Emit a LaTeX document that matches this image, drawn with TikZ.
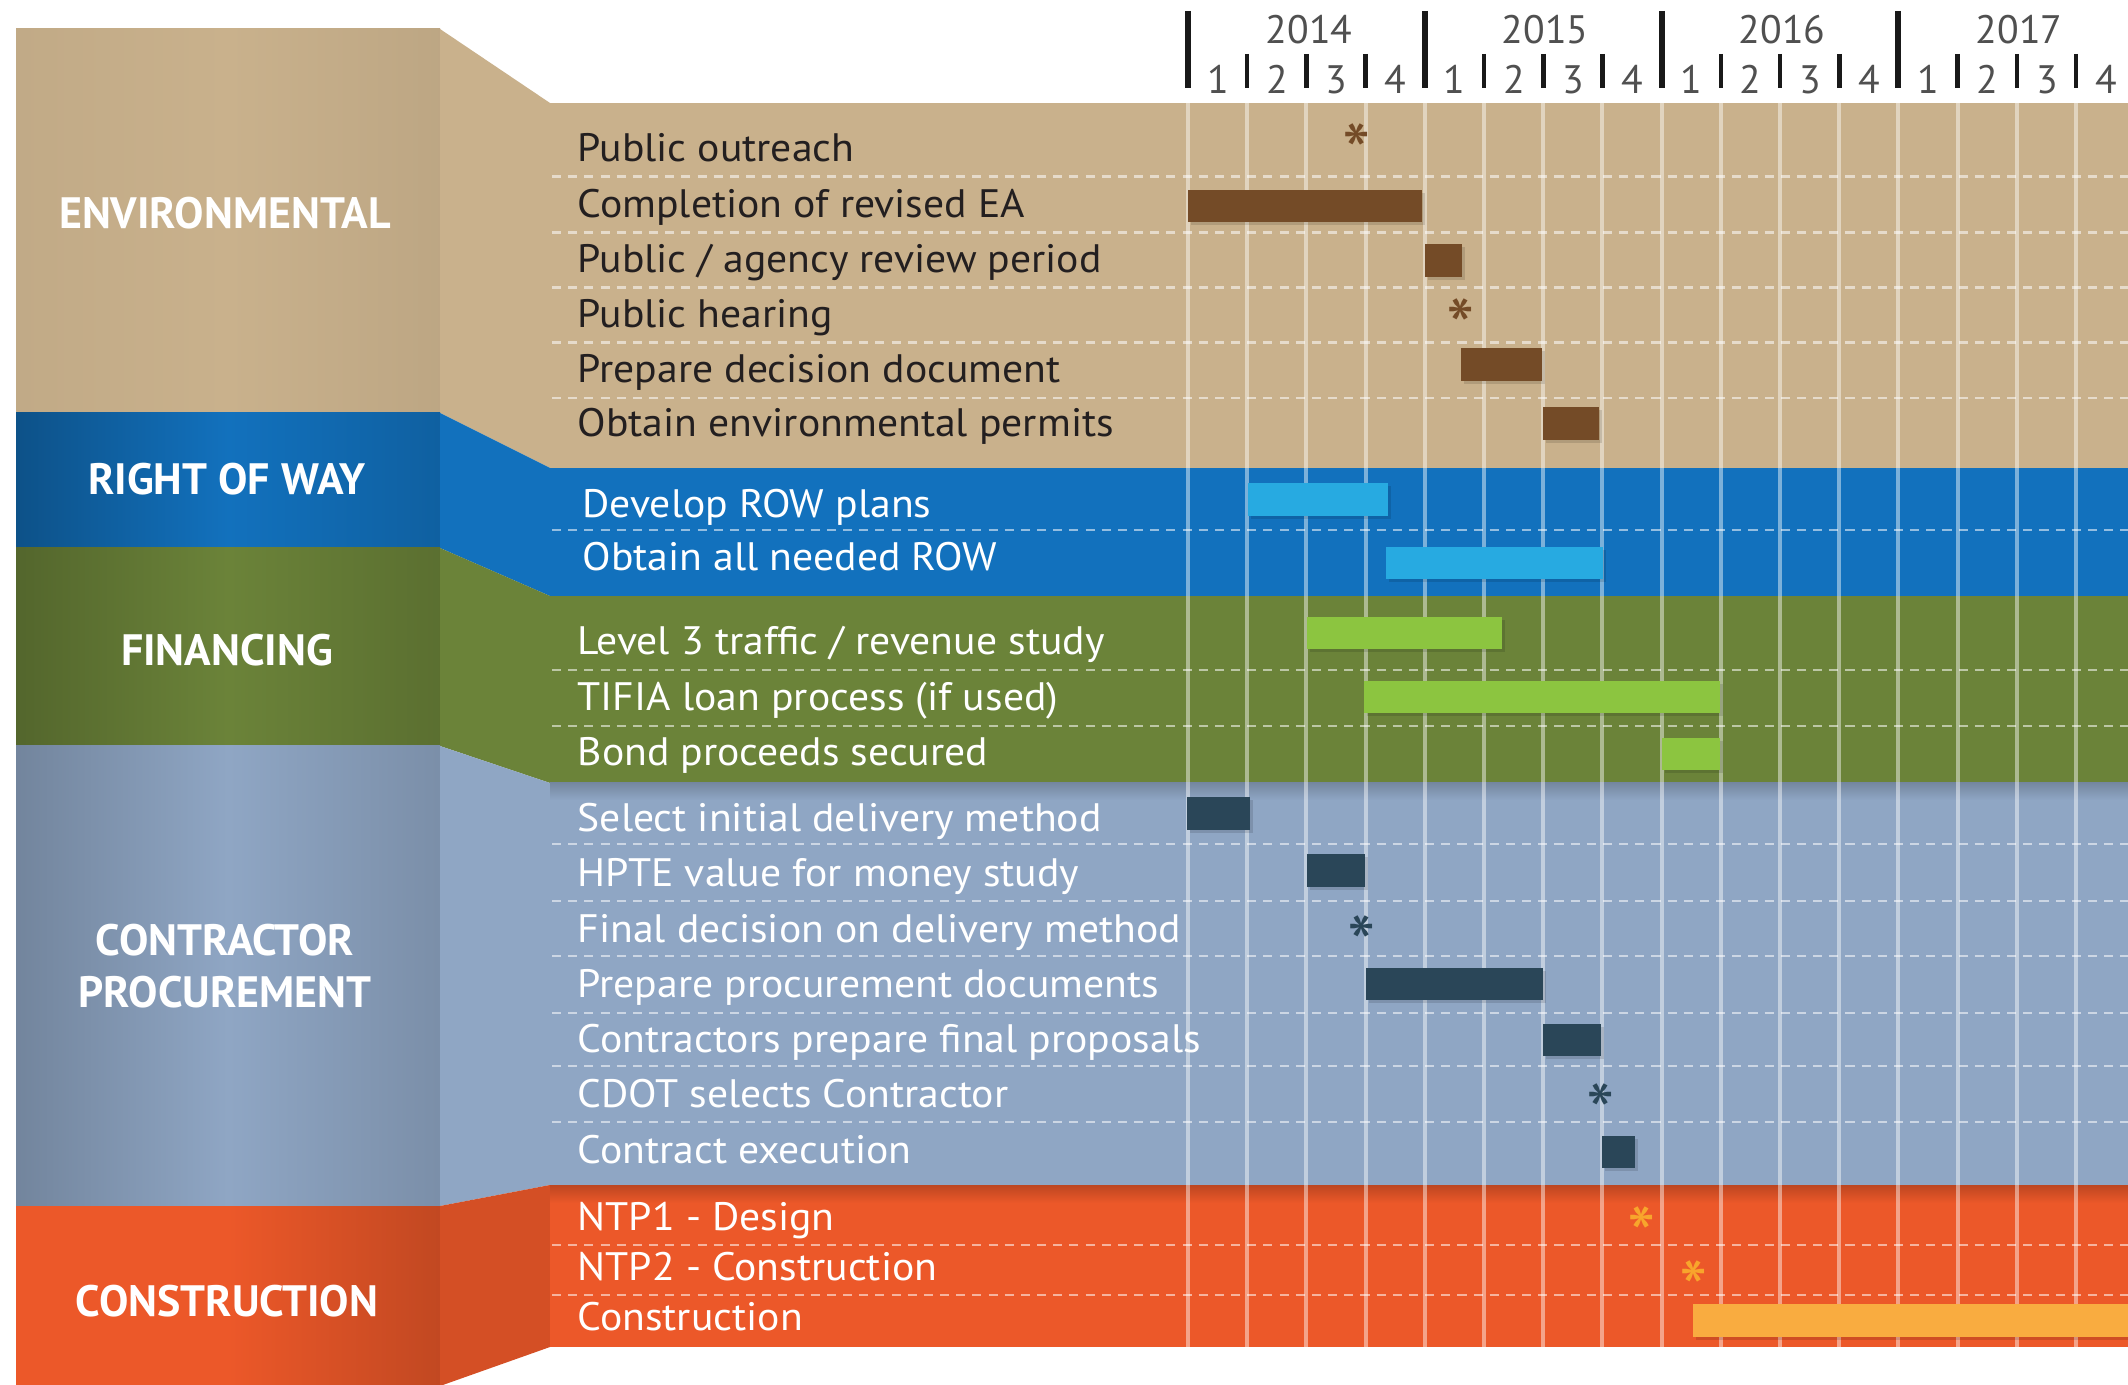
\documentclass[tikz,border=0pt]{standalone}
\usepackage{fontspec}
\setmainfont{PT Sans}
\newfontfamily\rowfont{PT Sans}[FakeStretch=1.05]
\usetikzlibrary{calc}
\definecolor{envC}{RGB}{201,177,140}
\definecolor{rowC}{RGB}{18,113,189}
\definecolor{finC}{RGB}{107,131,57}
\definecolor{proC}{RGB}{143,166,196}
\definecolor{conC}{RGB}{236,88,41}
\definecolor{envB}{RGB}{116,75,39}
\definecolor{rowB}{RGB}{39,170,225}
\definecolor{finB}{RGB}{140,197,64}
\definecolor{proB}{RGB}{42,70,88}
\definecolor{conB}{RGB}{249,172,64}
\definecolor{conA}{RGB}{248,165,44}
\definecolor{envT}{RGB}{35,31,32}
\definecolor{hdrT}{RGB}{80,80,80}
\tikzset{
  rowtxt/.style={anchor=base west, inner sep=0pt, font=\rowfont\fontsize{11.3}{13}\selectfont},
  rowdark/.style={rowtxt, text=envT},
  rowlight/.style={rowtxt, text=white},
  seclbl/.style={align=center, inner sep=0pt, font=\fontsize{12.5}{14.8}\selectfont\bfseries, text=white},
  vgrid/.style={white, opacity=0.45, line width=1.1pt},
  hdash/.style={white, opacity=0.55, line width=0.85pt, dash pattern=on 2.6pt off 2pt},
  majtick/.style={line width=1.7pt, black!90},
  mintick/.style={line width=1.3pt, black!90},
  hdrtxt/.style={inner sep=0pt, anchor=base, text=hdrT, font=\fontsize{11.3}{13}\selectfont},
  astk/.style={anchor=north, inner sep=0pt, font=\fontsize{23}{23}\selectfont},
}
% band: color, topL, topR, botL, botR, left edge, right edge, slant
\newcommand\band[8]{%
  \shade[left color=#6, right color=#7, middle color=#1] (16,#2) rectangle (440,#4);
  \fill[#8] (440,#2) -- (550,#3) -- (550,#5) -- (440,#4) -- cycle;
  \fill[#1] (550,#3) rectangle (2128,#5);
}
% bar: color, x1, x2, y1, y2
\newcommand\gbar[5]{%
  \fill[black, opacity=0.12] (#2+3,#4+3) rectangle (#3+3,#5+3);
  \fill[#1] (#2,#4) rectangle (#3,#5);
}
\begin{document}
\begin{tikzpicture}[x=0.1mm, y=-0.1mm]
\useasboundingbox (0,0) rectangle (2128,1385);
\fill[white] (0,0) rectangle (2128,1385);

% bands
\band{envC}{29}{103}{413}{468}{envC!96!black}{envC!94!black}{envC}
\band{rowC}{413}{468}{548}{596}{rowC!72!black}{rowC!85!black}{rowC}
\band{finC}{548}{596}{746}{783}{finC!78!black}{finC!85!black}{finC}
\band{proC}{746}{783}{1206}{1185}{proC!80!black}{proC!86!black}{proC}
\band{conC}{1206}{1185}{1386}{1347}{conC}{conC!82!black}{conC!90!black}
\shade[top color=proC!82!black, bottom color=proC] (550,783) rectangle (2128,800);
\shade[top color=conC!80!black, bottom color=conC] (550,1185) rectangle (2128,1203);

% vertical grid
\foreach \k in {0,...,15} \draw[vgrid] (1188+59.2*\k,103) -- (1188+59.2*\k,1347);
% dashed row separators
\foreach \y in {177,233,288,343,398,530,670,726,844,901,956,1013,1066,1122,1245,1295}
  \draw[hdash] (552,\y) -- (2128,\y);

% header
\foreach \k in {0,4,8,12} \draw[majtick] (1188+59.2*\k,11) -- (1188+59.2*\k,88);
\foreach \k in {1,2,3,5,6,7,9,10,11,13,14,15} \draw[mintick] (1188+59.2*\k,54) -- (1188+59.2*\k,88);
\foreach \k/\n in {0/1,1/2,2/3,3/4,4/1,5/2,6/3,7/4,8/1,9/2,10/3,11/4,12/1,13/2,14/3,15/4}
  \node[hdrtxt] (q\k) at (1188+59.2*\k+30,94) {\n};
\node[hdrtxt] (y2014) at (1309,44) {2014};
\node[hdrtxt] (y2015) at (1545,44) {2015};
\node[hdrtxt] (y2016) at (1782,44) {2016};
\node[hdrtxt] (y2017) at (2019,44) {2017};

% bars
\gbar{envB}{1188}{1422}{190}{222}
\gbar{envB}{1425}{1462}{244}{277}
\gbar{envB}{1461}{1542}{348}{381}
\gbar{envB}{1543}{1599}{407}{440}
\gbar{rowB}{1248}{1388}{483}{516}
\gbar{rowB}{1386}{1603}{547}{579}
\gbar{finB}{1307}{1502}{617}{649}
\gbar{finB}{1364}{1720}{681}{713}
\gbar{finB}{1662}{1720}{738}{770}
\gbar{proB}{1187}{1250}{797}{830}
\gbar{proB}{1307}{1365}{854}{887}
\gbar{proB}{1366}{1543}{968}{1000}
\gbar{proB}{1543}{1601}{1024}{1056}
\gbar{proB}{1602}{1635}{1136}{1168}
\gbar{conB}{1693}{2128}{1304}{1337}

% milestones
\node[astk, text=envB] (m1) at (1357,123) {*};
\node[astk, text=envB] (m2) at (1461,298) {*};
\node[astk, text=proB] (m3) at (1362,915) {*};
\node[astk, text=proB] (m4) at (1601,1083) {*};
\node[astk, text=conA] (m5) at (1642,1206) {*};
\node[astk, text=conA] (m6) at (1694,1260) {*};

% row labels
\node[rowdark] (t1) at (577,162) {Public outreach};
\node[rowdark] (t2) at (577,218) {Completion of revised EA};
\node[rowdark] (t3) at (577,273) {Public / agency review period};
\node[rowdark] (t4) at (577,328) {Public hearing};
\node[rowdark] (t5) at (577,383) {Prepare decision document};
\node[rowdark] (t6) at (577,437) {Obtain environmental permits};
\node[rowlight] (t7) at (582,518) {Develop ROW plans};
\node[rowlight] (t8) at (582,571) {Obtain all needed ROW};
\node[rowlight] (t9) at (577,655) {Level 3 traffic / revenue study};
\node[rowlight] (t10) at (577,711) {TIFIA loan process (if used)};
\node[rowlight] (t11) at (577,766) {Bond proceeds secured};
\node[rowlight] (t12) at (577,831) {Select initial delivery method};
\node[rowlight] (t13) at (577,887) {HPTE value for money study};
\node[rowlight] (t14) at (577,942) {Final decision on delivery method};
\node[rowlight] (t15) at (577,998) {Prepare procurement documents};
\node[rowlight] (t16) at (577,1052) {Contractors prepare final proposals};
\node[rowlight] (t17) at (577,1107) {CDOT selects Contractor};
\node[rowlight] (t18) at (577,1163) {Contract execution};
\node[rowlight] (t19) at (577,1230) {NTP1 - Design};
\node[rowlight] (t20) at (577,1280) {NTP2 - Construction};
\node[rowlight] (t21) at (577,1330) {Construction};

% section labels
\node[seclbl] (sEnv) at (225,213) {ENVIRONMENTAL};
\node[seclbl] (sRow) at (227,479) {RIGHT OF WAY};
\node[seclbl] (sFin) at (227,650) {FINANCING};
\node[seclbl] (sPro) at (225,966) {CONTRACTOR\\PROCUREMENT};
\node[seclbl] (sCon) at (227,1301) {CONSTRUCTION};
\end{tikzpicture}
\end{document}
